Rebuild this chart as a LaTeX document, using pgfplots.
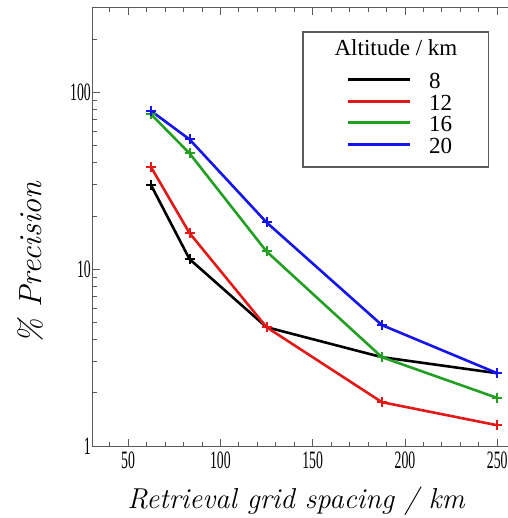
\documentclass[border=0pt]{standalone}
\usepackage{fontspec}
\usepackage{graphicx}
\usepackage{pgfplots}
\pgfplotsset{compat=1.18}
\newfontfamily\tickfont{Liberation Serif}
\newcommand\ticklab[1]{\scalebox{0.55}[1]{\tickfont #1}}
\definecolor{cRed}{RGB}{225,25,25}
\definecolor{cGreen}{RGB}{35,160,35}
\definecolor{cBlue}{RGB}{20,20,235}
\definecolor{axcol}{RGB}{90,90,90}
\begin{document}
\begin{tikzpicture}
\path[use as bounding box] (-93pt,-72pt) rectangle (414pt,446pt);
\begin{axis}[
  at={(0pt,0pt)}, anchor=south west,
  scale only axis, width=419pt, height=438pt,
  ymode=log, xmin=31, xmax=258, ymin=1, ymax=300,
  axis line style={axcol, line width=1pt},
  tick style={axcol, line width=0.8pt},
  major tick length=7pt, minor tick length=4pt,
  tick align=inside,
  ytick pos=left,
  xtick={50,100,150,200,250},
  xticklabels={\ticklab{50},\ticklab{100},\ticklab{150},\ticklab{200},\ticklab{250}},
  minor xtick={40,60,70,80,90,110,120,130,140,160,170,180,190,210,220,230,240},
  ytick={1,10,100},
  yticklabels={\ticklab{1},\ticklab{10},\ticklab{100}},
  minor ytick={2,3,4,5,6,7,8,9,20,30,40,50,60,70,80,90,200},
  xticklabel style={font=\fontsize{25}{25}\selectfont, inner sep=0pt, yshift=-6pt},
  yticklabel style={font=\fontsize{25}{25}\selectfont, inner sep=0pt, xshift=-2pt},
  xlabel={Retrieval grid spacing / km},
  xlabel style={font=\fontsize{28.8}{28.8}\selectfont\itshape, at={(rel axis cs:0.4845,-0.1416)}, anchor=base},
  ylabel={\% Precision},
  ylabel style={font=\fontsize{32}{32}\selectfont\itshape, at={(rel axis cs:-0.150,0.418)}, anchor=center, rotate=0},
  every axis plot/.append style={line width=2.6pt, mark=+, mark size=5pt, mark options={solid, line width=2pt}},
  legend image code/.code={\draw[#1, line width=3pt] (0pt,2.5pt) -- (62pt,2.5pt); \path (0pt,0pt) (80pt,0pt);},
  legend style={draw=none, fill=none, at={(rel axis cs:0.597,0.850)}, anchor=north west,
    font=\fontsize{23}{23}\selectfont\tickfont, row sep=8.5pt,
    nodes={inner sep=0pt, text height=13pt, text depth=0pt}},
  legend cell align=left,
  clip=false,
]
\addplot[black] coordinates {(62.5,29.8) (83.3,11.4) (125,4.7) (187.5,3.18) (250,2.58)};
\addlegendentry{8}
\addplot[cRed] coordinates {(62.5,37.7) (83.3,16.0) (125,4.7) (187.5,1.77) (250,1.31)};
\addlegendentry{12}
\addplot[cGreen] coordinates {(62.5,75.1) (83.3,45.2) (125,12.6) (187.5,3.18) (250,1.87)};
\addlegendentry{16}
\addplot[cBlue] coordinates {(62.5,78.5) (83.3,54.2) (125,18.4) (187.5,4.83) (250,2.58)};
\addlegendentry{20}
\draw[axcol, line width=1.2pt] (rel axis cs:0.501,0.945) rectangle (rel axis cs:0.943,0.637);
\node[font=\fontsize{23}{23}\selectfont\tickfont] at (rel axis cs:0.723,0.909) {Altitude / km};
\end{axis}
\end{tikzpicture}
\end{document}
